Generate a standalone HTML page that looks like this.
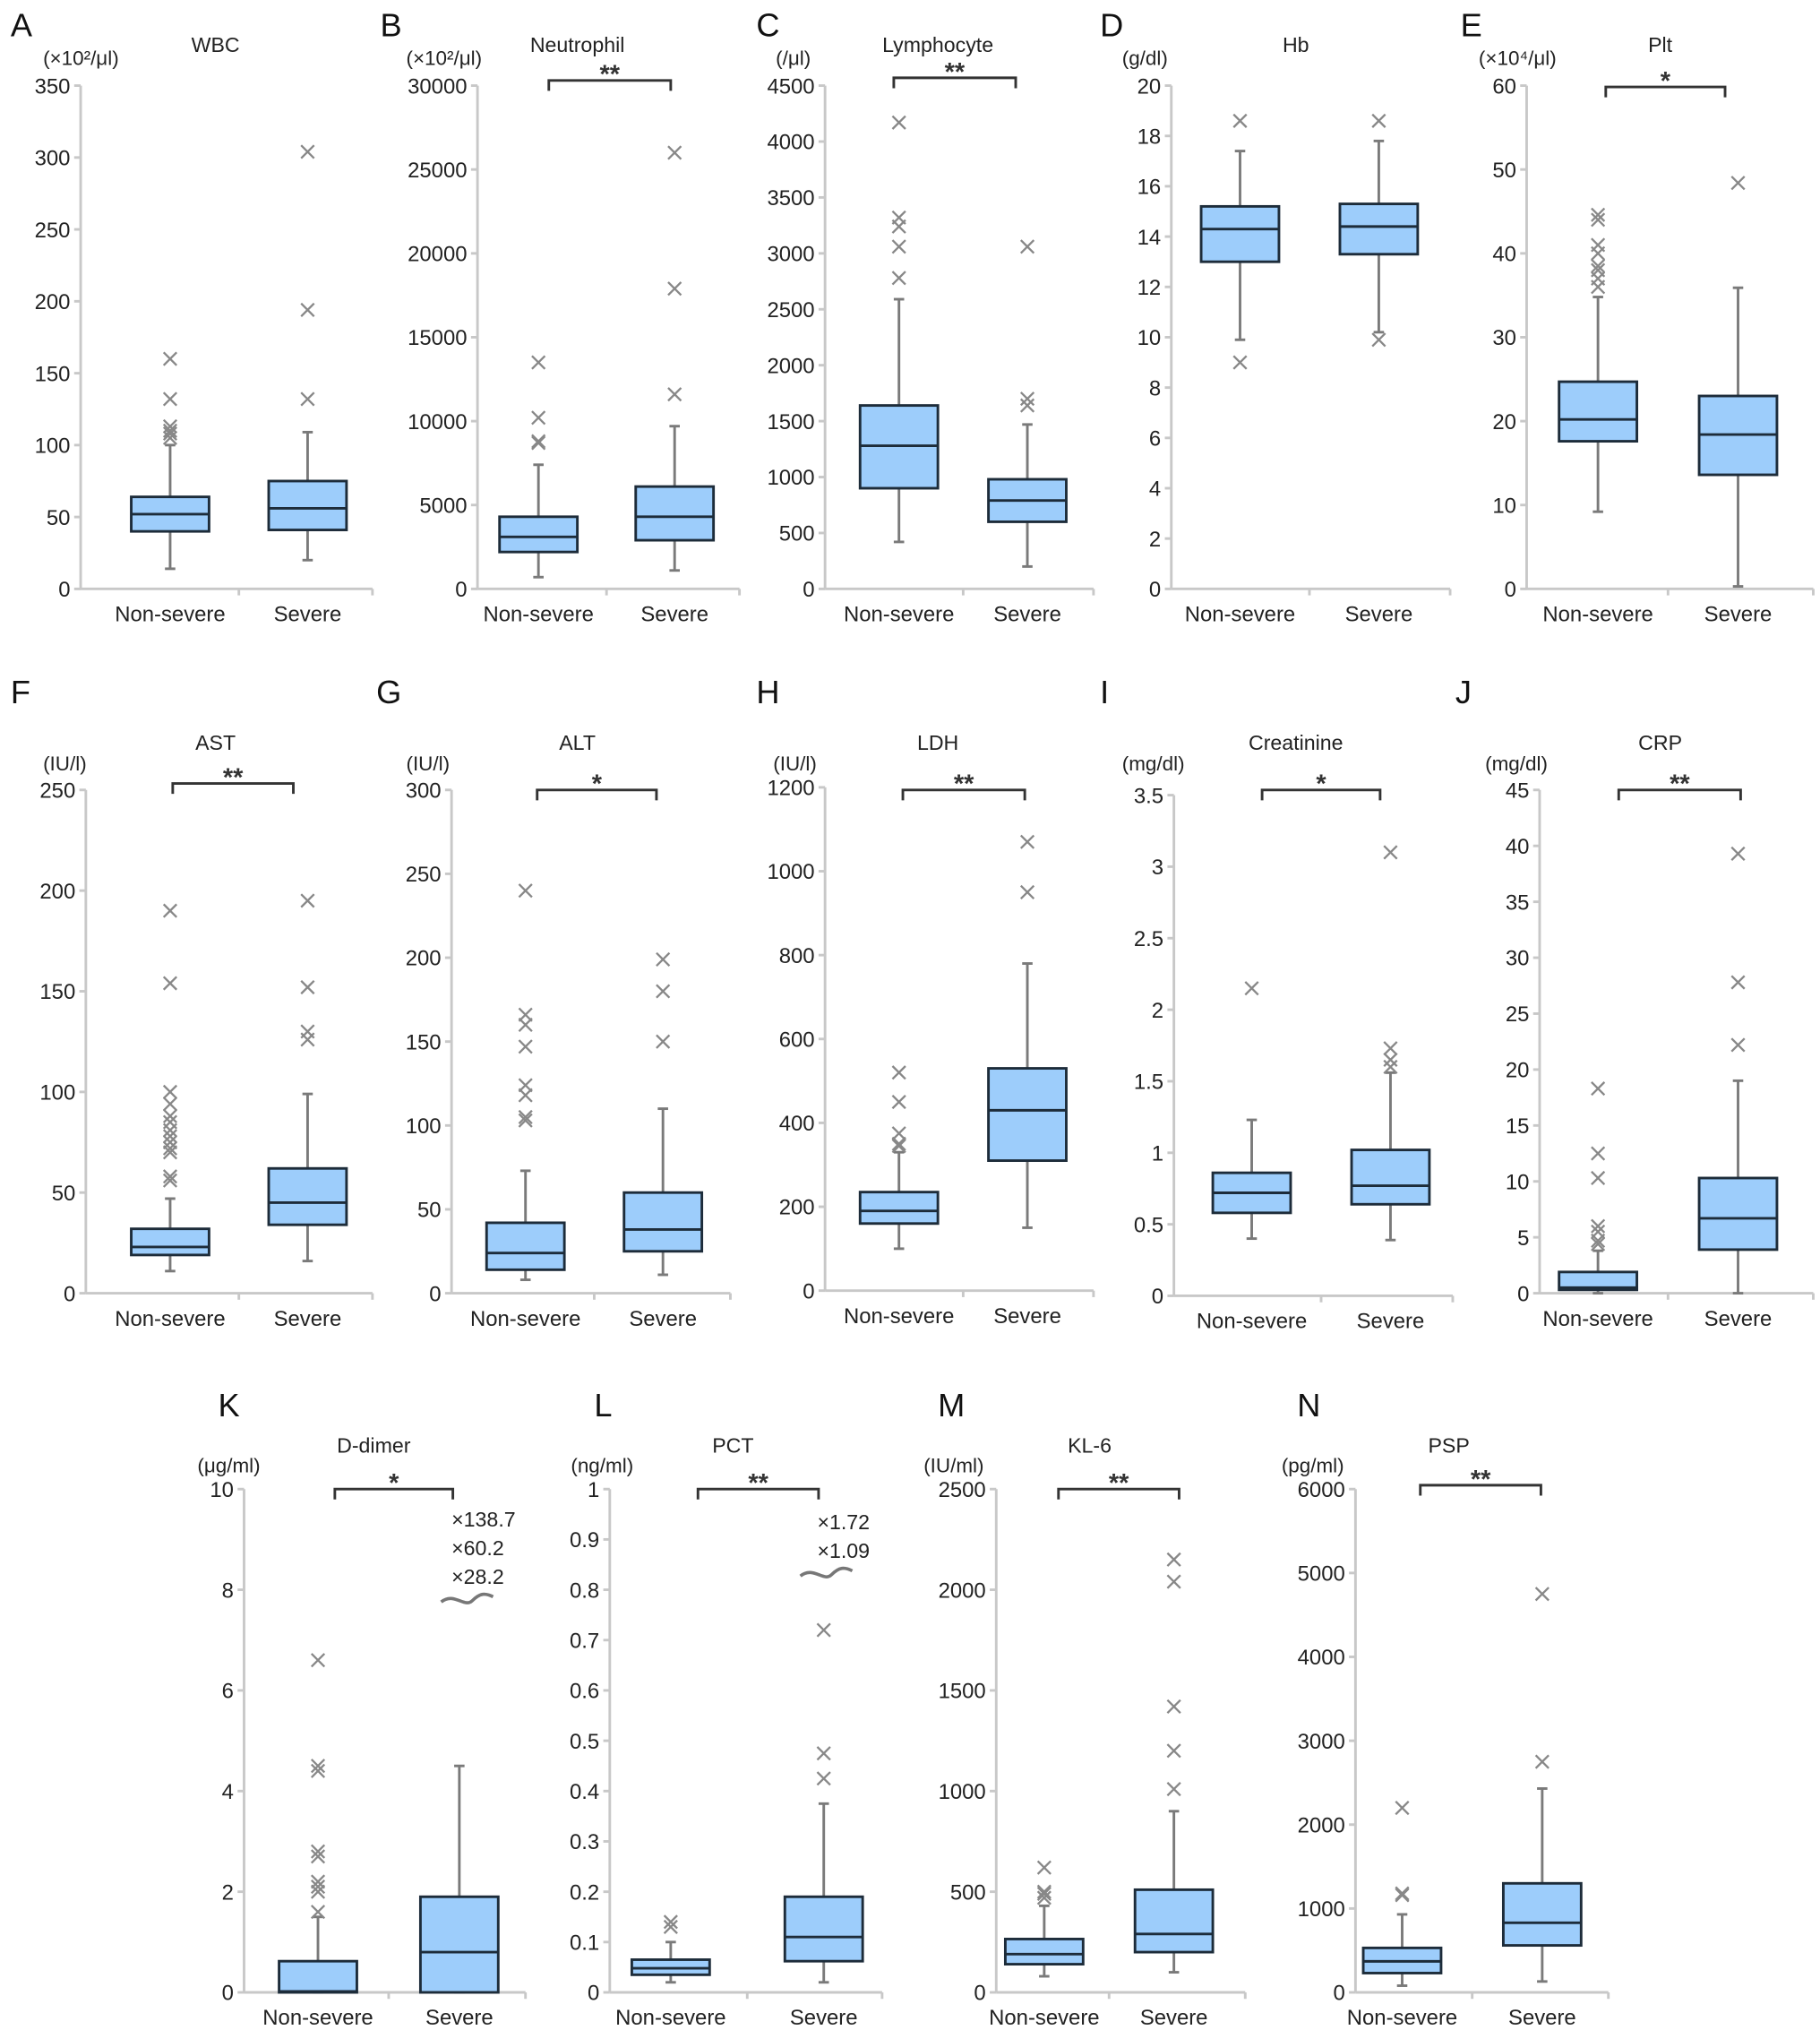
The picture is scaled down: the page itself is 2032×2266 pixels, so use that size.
<!DOCTYPE html>
<html><head><meta charset="utf-8">
<style>
html,body{margin:0;padding:0;background:#fff;}
svg{display:block;font-family:"Liberation Sans",sans-serif;}
</style></head>
<body>
<svg id="fig" width="2032" height="2266" viewBox="0 0 1403 1565" xmlns="http://www.w3.org/2000/svg"></svg>
<script>
// Box stats per group: [q1, median, q3, whiskerLow, whiskerHigh]
const wbcStats=[[40,52,64,14,100],[41,56,75,20,109]];
const wbcOut=[[160,132,113,110,108,105],[304,194,132]];
const neuStats=[[2200,3100,4300,700,7400],[2900,4300,6100,1100,9700]];
const neuOut=[[13500,10200,8800,8700],[26000,17900,11600]];
const lymStats=[[900,1280,1640,420,2590],[600,790,980,200,1470]];
const lymOut=[[4170,3320,3240,3060,2780],[3060,1700,1640]];
const hbStats=[[13,14.3,15.2,9.9,17.4],[13.3,14.4,15.3,10.2,17.8]];
const hbOut=[[18.6,9],[18.6,9.9]];
const pltStats=[[17.6,20.2,24.7,9.2,34.8],[13.6,18.4,23,0.3,35.9]];
const pltOut=[[44.6,44,41,40,38.5,38,37,36],[48.4]];
const astStats=[[19,23,32,11,47],[34,45,62,16,99]];
const astOut=[[190,154,100,94,88,85,81,78,75,72,70,58,56],[195,152,130,126]];
const altStats=[[14,24,42,8,73],[25,38,60,11,110]];
const altOut=[[240,166,160,147,124,118,105,103],[199,180,150]];
const ldhStats=[[160,190,235,100,330],[310,430,530,150,780]];
const ldhOut=[[520,450,375,350,345],[1070,950]];
const creStats=[[0.58,0.72,0.86,0.4,1.23],[0.64,0.77,1.02,0.39,1.56]];
const creOut=[[2.15],[3.1,1.73,1.65,1.6]];
const crpStats=[[0.3,0.5,1.9,0,3.8],[3.9,6.7,10.3,0,19]];
const crpOut=[[18.3,12.5,10.3,6,5.5,4.7,4.4],[39.3,27.8,22.2]];
const ddStats=[[0,0.02,0.62,0,1.5],[0,0.8,1.9,0,4.5]];
const ddOut=[[6.6,4.5,4.4,2.8,2.7,2.2,2.1,2.0,1.6],[]];
const pctStats=[[0.035,0.048,0.065,0.02,0.1],[0.062,0.11,0.19,0.02,0.375]];
const pctOut=[[0.14,0.13],[0.72,0.475,0.425]];
const klStats=[[140,190,265,80,430],[200,290,510,100,900]];
const klOut=[[620,500,490,470],[2150,2040,1420,1200,1010]];
const pspStats=[[230,370,530,80,930],[560,830,1300,130,2430]];
const pspOut=[[2200,1180,1160],[4750,2750]];
const categories=["Non-severe","Severe"];

const panels=[
 {L:"A",t:"WBC",u:"(×10²/μl)",st:wbcStats,o:wbcOut,max:350,step:50,ax:62,c:[131,237],end:287,top:66,bot:454,lx:8,ly:28,tx:166,ty:40,ux:33,uy:50},
 {L:"B",t:"Neutrophil",u:"(×10²/μl)",st:neuStats,o:neuOut,max:30000,step:5000,ax:368,c:[415,520],end:570,top:66,bot:454,lx:293,ly:28,tx:445,ty:40,ux:313,uy:50,br:[423,517,62],sig:"**"},
 {L:"C",t:"Lymphocyte",u:"(/μl)",st:lymStats,o:lymOut,max:4500,step:500,ax:636,c:[693,792],end:843,top:66,bot:454,lx:583,ly:28,tx:723,ty:40,ux:598,uy:50,br:[689,783,60],sig:"**"},
 {L:"D",t:"Hb",u:"(g/dl)",st:hbStats,o:hbOut,max:20,step:2,ax:903,c:[956,1063],end:1118,top:66,bot:454,lx:848,ly:28,tx:999,ty:40,ux:865,uy:50},
 {L:"E",t:"Plt",u:"(×10⁴/μl)",st:pltStats,o:pltOut,max:60,step:10,ax:1177,c:[1232,1340],end:1398,top:66,bot:454,lx:1126,ly:28,tx:1280,ty:40,ux:1140,uy:50,br:[1238,1330,67],sig:"*"},
 {L:"F",t:"AST",u:"(IU/l)",st:astStats,o:astOut,max:250,step:50,ax:66,c:[131,237],end:287,top:609,bot:997,lx:8,ly:542,tx:166,ty:578,ux:33,uy:594,br:[133,226,604],sig:"**"},
 {L:"G",t:"ALT",u:"(IU/l)",st:altStats,o:altOut,max:300,step:50,ax:348,c:[405,511],end:563,top:609,bot:997,lx:290,ly:542,tx:445,ty:578,ux:313,uy:594,br:[414,506,609],sig:"*"},
 {L:"H",t:"LDH",u:"(IU/l)",st:ldhStats,o:ldhOut,max:1200,step:200,ax:636,c:[693,792],end:843,top:607,bot:995,lx:583,ly:542,tx:723,ty:578,ux:596,uy:594,br:[696,790,609],sig:"**"},
 {L:"I",t:"Creatinine",u:"(mg/dl)",st:creStats,o:creOut,max:3.5,step:0.5,ax:905,c:[965,1072],end:1120,top:613,bot:999,lx:848,ly:542,tx:999,ty:578,ux:865,uy:594,br:[973,1064,609],sig:"*"},
 {L:"J",t:"CRP",u:"(mg/dl)",st:crpStats,o:crpOut,max:45,step:5,ax:1187,c:[1232,1340],end:1398,top:609,bot:997,lx:1122,ly:542,tx:1280,ty:578,ux:1145,uy:594,br:[1248,1342,609],sig:"**"},
 {L:"K",t:"D-dimer",u:"(μg/ml)",st:ddStats,o:ddOut,max:10,step:2,ax:188,c:[245,354],end:405,top:1148,bot:1536,lx:168,ly:1092,tx:288,ty:1120,ux:152,uy:1135,br:[258,349,1148],sig:"*",
  brk:{x:348,lines:["×138.7","×60.2","×28.2"],y0:1177,wx:340,wy:1232}},
 {L:"L",t:"PCT",u:"(ng/ml)",st:pctStats,o:pctOut,max:1,step:0.1,ax:470,c:[517,635],end:680,top:1148,bot:1536,lx:458,ly:1092,tx:565,ty:1120,ux:440,uy:1135,br:[538,631,1148],sig:"**",
  brk:{x:630,lines:["×1.72","×1.09"],y0:1179,wx:617,wy:1212}},
 {L:"M",t:"KL-6",u:"(IU/ml)",st:klStats,o:klOut,max:2500,step:500,ax:768,c:[805,905],end:960,top:1148,bot:1536,lx:723,ly:1092,tx:840,ty:1120,ux:712,uy:1135,br:[816,909,1148],sig:"**"},
 {L:"N",t:"PSP",u:"(pg/ml)",st:pspStats,o:pspOut,max:6000,step:1000,ax:1045,c:[1081,1189],end:1240,top:1148,bot:1536,lx:1000,ly:1092,tx:1117,ty:1120,ux:988,uy:1135,br:[1095,1188,1145],sig:"**"}
];

const svg=document.getElementById('fig');
const NS="http://www.w3.org/2000/svg";
function mk(tag,attrs,parent,txt){const e=document.createElementNS(NS,tag);for(const k in attrs)e.setAttribute(k,attrs[k]);if(txt!==undefined)e.textContent=txt;(parent||svg).appendChild(e);return e;}

panels.forEach(p=>{
  const g=mk('g',{});
  
  
  const y=v=>p.bot-(v/p.max)*(p.bot-p.top);
  const lt=mk('text',{x:p.lx,y:p.ly,'font-size':25,fill:'#111'},g,p.L);
  
  
  const tt=mk('text',{x:p.tx,y:p.ty,'font-size':16,fill:'#222','text-anchor':'middle'},g,p.t);
  
  
  const ut=mk('text',{x:p.ux,y:p.uy,'font-size':15.5,fill:'#222'},g,p.u);
  
  
  const ya=mk('line',{x1:p.ax,y1:p.top,x2:p.ax,y2:p.bot,stroke:'#c8c8c8','stroke-width':2},g);
  
  
  const xa=mk('line',{x1:p.ax,y1:p.bot,x2:p.end,y2:p.bot,stroke:'#c8c8c8','stroke-width':2},g);
  
  
  const mid=(p.c[0]+p.c[1])/2;
  mk('line',{x1:mid,y1:p.bot,x2:mid,y2:p.bot+5,stroke:'#c8c8c8','stroke-width':2},g);
  mk('line',{x1:p.end,y1:p.bot,x2:p.end,y2:p.bot+5,stroke:'#c8c8c8','stroke-width':2},g);
  const n=Math.round(p.max/p.step);
  for(let i=0;i<=n;i++){
    const v=+(i*p.step).toFixed(4);
    mk('line',{x1:p.ax-5,y1:y(v),x2:p.ax,y2:y(v),stroke:'#c8c8c8','stroke-width':2},g);
    const tl=mk('text',{x:p.ax-8,y:y(v)+6,'font-size':16.5,fill:'#222','text-anchor':'end'},g,String(v));
    
    
  }
  categories.forEach((c,i)=>{
    const cl=mk('text',{x:p.c[i],y:p.bot+25,'font-size':16.5,fill:'#222','text-anchor':'middle'},g,c);
    
    
    const s=p.st[i];const cx=p.c[i];const hw=30;
    mk('line',{x1:cx,y1:y(s[4]),x2:cx,y2:y(s[2]),stroke:'#7a7a7a','stroke-width':2},g);
    mk('line',{x1:cx,y1:y(s[0]),x2:cx,y2:y(s[3]),stroke:'#7a7a7a','stroke-width':2},g);
    mk('line',{x1:cx-4,y1:y(s[4]),x2:cx+4,y2:y(s[4]),stroke:'#7a7a7a','stroke-width':2},g);
    mk('line',{x1:cx-4,y1:y(s[3]),x2:cx+4,y2:y(s[3]),stroke:'#7a7a7a','stroke-width':2},g);
    const bx=mk('rect',{x:cx-hw,y:y(s[2]),width:2*hw,height:Math.max(1,y(s[0])-y(s[2])),fill:'#9dcdfb',stroke:'#1d2c3a','stroke-width':2},g);
    
    
    mk('line',{x1:cx-hw,y1:y(s[1]),x2:cx+hw,y2:y(s[1]),stroke:'#1d2c3a','stroke-width':2},g);
    p.o[i].forEach(v=>{
      const oy=y(v);
      const m=mk('path',{d:`M${cx-5},${oy-5}L${cx+5},${oy+5}M${cx-5},${oy+5}L${cx+5},${oy-5}`,stroke:'#888','stroke-width':1.6,fill:'none'},g);
      
      
    });
  });
  if(p.br){
    const [x1,x2,by]=p.br;
    const b=mk('path',{d:`M${x1},${by+8}V${by}H${x2}V${by+8}`,stroke:'#333','stroke-width':2,fill:'none'},g);
    
    
    const st=mk('text',{x:(x1+x2)/2,y:by+2,'font-size':20,'font-weight':'bold',fill:'#333','text-anchor':'middle'},g,p.sig);
    
    
  }
  if(p.brk){
    const k=p.brk;
    k.lines.forEach((t,j)=>{
      const a=mk('text',{x:k.x,y:k.y0+j*22,'font-size':16,fill:'#222'},g,t);
      
      
    });
    const w=mk('path',{d:`M${k.wx},${k.wy+3}C${k.wx+10},${k.wy-5} ${k.wx+18},${k.wy+8} ${k.wx+24},${k.wy+2}S${k.wx+34},${k.wy-4} ${k.wx+40},${k.wy-1}`,stroke:'#777','stroke-width':2.5,fill:'none'},g);
    
    
  }
});
</script>
</body></html>
